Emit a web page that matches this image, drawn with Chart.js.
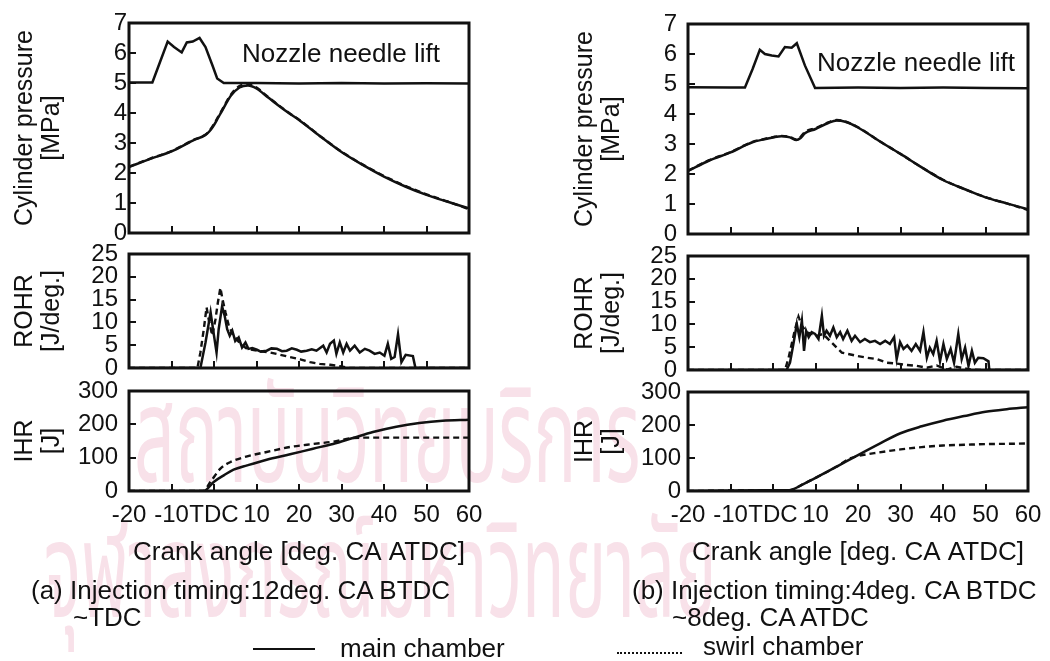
<!DOCTYPE html>
<html>
<head>
<meta charset="utf-8">
<title>Cylinder pressure, ROHR and IHR</title>
<script src="https://cdn.jsdelivr.net/npm/chart.js@4.4.1/dist/chart.umd.min.js"></script>
<style>
  html, body { margin: 0; padding: 0; background: #fff; }
  body { width: 1050px; height: 661px; position: relative; overflow: hidden;
         font-family: "Liberation Sans", Arial, sans-serif; color: #111; }
  .box { position: absolute; }
  .txt { position: absolute; white-space: nowrap; font-size: 26px; line-height: 1; }
  .wm { position: absolute; white-space: nowrap; color: #f8e1e9; line-height: 1;
        font-family: "Noto Sans Thai", "Noto Sans", "DejaVu Sans", sans-serif;
        transform-origin: 0 0; }
  .key { position: absolute; height: 0; }
</style>
</head>
<body>

<div class="wm" style="left:134px; top:374px; font-size:135px; transform:scaleX(0.53);">สถาบันวิทยบริการ</div>
<div class="wm" style="left:44px; top:509px; font-size:135px; transform:scaleX(0.52);">จุฬาลงกรณ์มหาวิทยาลัย</div>

<div class="box" id="wrap-p-a"><canvas id="p-a"></canvas></div>
<div class="box" id="wrap-r-a"><canvas id="r-a"></canvas></div>
<div class="box" id="wrap-i-a"><canvas id="i-a"></canvas></div>
<div class="box" id="wrap-p-b"><canvas id="p-b"></canvas></div>
<div class="box" id="wrap-r-b"><canvas id="r-b"></canvas></div>
<div class="box" id="wrap-i-b"><canvas id="i-b"></canvas></div>

<div class="txt" style="left:242px; top:40px;">Nozzle needle lift</div>
<div class="txt" style="left:817px; top:49px;">Nozzle needle lift</div>

<div class="txt" style="left:31px; top:577px;">(a) Injection timing:12deg. CA BTDC</div>
<div class="txt" style="left:73px; top:604px;">~TDC</div>
<div class="txt" style="left:632px; top:577px;">(b) Injection timing:4deg. CA BTDC</div>
<div class="txt" style="left:672px; top:604px;">~8deg. CA ATDC</div>

<div class="key" style="left:253px; top:648px; width:62px; border-top:2.5px solid #111;"></div>
<div class="txt" style="left:340px; top:635px;">main chamber</div>
<div class="key" style="left:617px; top:652px; width:65px; border-top:2px dotted #111;"></div>
<div class="txt" style="left:703px; top:633px;">swirl chamber</div>

<script>
// ---- (a) injection 12 deg BTDC ~ TDC ----
const pAngleA = [-20, -15, -10, -5, -2, -1, 0, 1, 2, 4, 6, 8, 10, 12, 15, 18, 20, 25, 30, 35, 40, 45, 50, 55, 60];
const pMainA = [2.2, 2.47, 2.72, 3.08, 3.27, 3.4, 3.6, 3.85, 4.1, 4.58, 4.85, 4.92, 4.82, 4.6, 4.27, 3.96, 3.77, 3.22, 2.7, 2.27, 1.88, 1.55, 1.27, 1.04, 0.82];
const pSwirlA = [2.21, 2.48, 2.73, 3.09, 3.28, 3.42, 3.63, 3.88, 4.13, 4.62, 4.9, 4.97, 4.85, 4.62, 4.28, 3.97, 3.78, 3.23, 2.71, 2.28, 1.9, 1.57, 1.29, 1.05, 0.79];

const liftAngleA = [-20, -14.5, -12.7, -10.9, -9.4, -7.6, -6.4, -5, -3.4, -2, -0.4, 0.75, 2.3, 10, 20, 30, 40, 50, 60];
const liftA = [5.02, 5.02, 5.7, 6.38, 6.2, 6.02, 6.35, 6.38, 6.5, 6.2, 5.6, 5.15, 5.0, 5.0, 4.98, 5.0, 4.98, 4.99, 4.98];

const rohrAngleMainA = [-20, -3.2, -2, -0.8, 0, 0.6, 1.1, 1.9, 2.5, 3.1, 3.7, 4.3, 5, 5.8, 6.6, 7.4, 8.1, 9, 10.1, 11, 12.4, 13.5, 14.8, 16, 17.1, 18.3, 19.5, 20.5, 21.8, 23, 24.1, 25.7, 26.5, 27.3, 28.2, 28.8, 29.6, 30.4, 31.2, 32, 33.1, 34.3, 35.5, 36.6, 37.8, 39, 40.1, 40.9, 41.7, 42.5, 43.3, 44.1, 45.1, 46.8, 47.4, 60];
const rohrMainA = [0, 0, 5.6, 12.2, 7.1, 3.4, 8.5, 13.5, 11.5, 8.5, 7.1, 8.2, 5.9, 6.7, 4.5, 5.6, 4.2, 4.4, 4.0, 3.6, 3.8, 4.3, 4.2, 3.7, 3.8, 4.3, 4.0, 3.6, 3.8, 4.1, 3.8, 4.9, 3.4, 5.3, 6.0, 3.1, 5.6, 3.4, 5.3, 3.8, 4.9, 3.4, 4.2, 3.8, 3.1, 3.4, 2.7, 5.3, 2.0, 2.4, 7.4, 1.3, 2.9, 2.6, 0, 0];
const rohrAngleSwirlA = [-20, -3.9, -3.2, -2.4, -1.75, -1.1, -0.4, 0.35, 0.9, 1.5, 2.0, 2.7, 3.5, 4.6, 6.2, 7.8, 10.1, 13.2, 15.6, 17.9, 20.3, 22.6, 24.9, 27.3, 29.6, 32, 60];
const rohrSwirlA = [0, 0, 3.4, 8.5, 13.3, 9.9, 7.1, 10.7, 14.3, 17.6, 15.1, 12.2, 9.2, 7.1, 5.3, 4.2, 3.8, 3.4, 2.9, 2.4, 1.9, 1.3, 0.9, 0.7, 0.4, 0, 0];

const ihrAngleMainA = [-20, -2.4, 0, 2.3, 4.6, 7.8, 12.4, 17.9, 23.3, 28, 32.7, 37.4, 42.9, 48.3, 53.8, 60];
const ihrMainA = [0, 0, 28, 47, 64, 77, 94, 110, 127, 141, 159, 177, 193, 204, 211, 214];
const ihrAngleSwirlA = [-20, -2.6, -0.8, 1.5, 3.9, 7.8, 12.4, 17.9, 23.3, 28, 32.7, 36, 45, 60];
const ihrSwirlA = [0, 0, 28, 67, 87, 104, 117, 132, 141, 148, 159, 160, 160, 160];

// ---- (b) injection 4 deg BTDC ~ 8 deg ATDC ----
const pAngleB = [-20, -15, -10, -5, -2, 0, 2, 4, 5.5, 6.5, 7.5, 10, 13, 15, 17, 20, 25, 30, 35, 40, 45, 50, 55, 60];
const pMainB = [2.1, 2.45, 2.72, 3.05, 3.16, 3.22, 3.26, 3.22, 3.13, 3.2, 3.36, 3.5, 3.7, 3.78, 3.74, 3.55, 3.1, 2.67, 2.22, 1.8, 1.5, 1.22, 1.02, 0.82];
const pSwirlB = [2.11, 2.46, 2.73, 3.06, 3.17, 3.23, 3.27, 3.23, 3.15, 3.24, 3.4, 3.53, 3.72, 3.8, 3.75, 3.56, 3.1, 2.67, 2.22, 1.81, 1.5, 1.23, 1.02, 0.8];

const liftAngleB = [-20, -10, -6.6, -4.8, -3.1, -1.9, -0.3, 1.3, 2.8, 4.4, 5.6, 7.5, 9.9, 20, 30, 40, 50, 60];
const liftB = [4.89, 4.88, 4.88, 5.5, 6.14, 6.0, 5.95, 5.92, 6.23, 6.21, 6.36, 5.62, 4.87, 4.88, 4.87, 4.88, 4.87, 4.86];

const rohrAngleMainB = [-20, 3.2, 4.0, 4.8, 5.6, 6.2, 6.8, 7.3, 7.8, 8.4, 9.1, 9.9, 10.7, 11.5, 12.0, 12.6, 13.4, 14.2, 15.0, 15.8, 16.5, 17.5, 18.5, 19.3, 20.5, 21.6, 22.8, 24.0, 25.2, 26.4, 27.5, 28.5, 29.1, 29.9, 30.7, 31.6, 32.6, 33.6, 34.6, 35.4, 36.2, 36.9, 37.7, 38.5, 39.3, 40.1, 40.9, 41.8, 42.6, 43.6, 44.4, 45.2, 46.0, 46.8, 47.5, 48.3, 49.5, 50.7, 50.9, 60];
const rohrMainB = [0, 0, 1.6, 5.7, 10.1, 7.2, 10.8, 4.2, 8.6, 7.2, 8.3, 7.9, 6.8, 11.9, 7.5, 8.6, 7.5, 9.3, 7.2, 8.3, 6.8, 8.6, 6.4, 7.5, 6.1, 6.8, 6.1, 6.4, 5.7, 6.4, 5.7, 7.2, 2.4, 6.1, 4.6, 5.4, 4.2, 5.7, 4.2, 8.3, 2.7, 4.9, 3.5, 6.4, 1.9, 5.7, 2.4, 4.6, 1.6, 7.9, 2.4, 4.9, 0.9, 4.2, 1.6, 2.7, 2.6, 1.9, 0, 0];
const rohrAngleSwirlB = [-20, 2.8, 3.6, 4.4, 5.2, 6.0, 6.8, 7.9, 9.1, 10.3, 11.8, 13.4, 15.0, 16.2, 17.7, 19.7, 22.0, 24.4, 26.8, 29.1, 31.5, 33.8, 36.2, 38.5, 40.9, 43.2, 46.4, 49.5, 60];
const rohrSwirlB = [0, 0, 2.4, 5.7, 9.0, 11.7, 9.7, 8.3, 7.9, 7.5, 7.9, 6.4, 4.9, 3.8, 3.5, 3.1, 2.7, 2.4, 1.6, 1.4, 1.1, 0.9, 0.5, 1.0, 0.1, 0.7, 0.1, 0, 0];

const ihrAngleMainB = [-20, -2, 3, 4.5, 7, 9.9, 15, 20, 25, 30, 35, 40, 45, 50, 55, 60];
const ihrMainB = [0, 2, 2, 4, 20, 39, 74, 109, 143, 175, 196, 213, 227, 240, 248, 254];
const ihrAngleSwirlB = [-20, -2, 3, 4.5, 7, 9.9, 15, 18, 20, 25, 30, 35, 40, 45, 50, 55, 60];
const ihrSwirlB = [0, 2, 2, 4, 20, 39, 74, 98, 106, 117, 126, 133, 138, 140, 142, 143, 144];

const INK = '#111';
Chart.defaults.font.family = '"Liberation Sans", Arial, sans-serif';
Chart.defaults.color = INK;

// Box round each plot area
const framePlugin = {
    id: 'frame',
    afterDatasetsDraw(chart) {
        const { ctx, chartArea: a } = chart;
        ctx.save();
        ctx.strokeStyle = INK;
        ctx.lineWidth = 3;
        ctx.strokeRect(a.left, a.top, a.right - a.left, a.bottom - a.top);
        ctx.restore();
    }
};

function points(xs, ys) {
    return xs.map((x, i) => ({ x: x, y: ys[i] }));
}

function series(xs, ys, dashed, smooth) {
    return {
        data: points(xs, ys),
        borderColor: INK,
        borderWidth: dashed ? 2.4 : 2.5,
        borderDash: dashed ? [6, 4] : [],
        pointRadius: 0,
        tension: 0,
        cubicInterpolationMode: smooth ? 'monotone' : 'default',
        fill: false
    };
}

// Labels are allowed to hang outside the plot box, so the scale
// must not push the plot area inward to make room for them.
function noLabelPadding(s) {
    s.paddingLeft = 0;
    s.paddingRight = 0;
    s.paddingTop = 0;
    s.paddingBottom = 0;
}

// Shared crank angle axis; only the bottom plot shows labels
function crankAxis(withLabels) {
    return {
        type: 'linear',
        min: -20,
        max: 60,
        afterFit: s => { s.height = withLabels ? 80 : 14; noLabelPadding(s); },
        border: { display: false },
        grid: { drawOnChartArea: false, drawTicks: true, tickLength: -7, color: INK, lineWidth: 2 },
        ticks: {
            display: withLabels,
            stepSize: 10,
            padding: 17,
            autoSkip: false,
            maxRotation: 0,
            font: { size: 24 },
            callback: v => v === 0 ? 'TDC' : v
        },
        title: {
            display: withLabels,
            text: 'Crank angle [deg. CA ATDC]',
            font: { size: 26 },
            padding: { top: 0, bottom: 3 }
        }
    };
}

function valueAxis(max, step, label, width, titlePad, tickPad) {
    return {
        min: 0,
        max: max,
        afterFit: s => { s.width = width; noLabelPadding(s); },
        border: { display: false },
        grid: { drawOnChartArea: false, drawTicks: true, tickLength: -7, color: INK, lineWidth: 2 },
        ticks: { stepSize: step, padding: tickPad, autoSkip: false, font: { size: 24 } },
        title: {
            display: true,
            text: label,
            font: { size: 25, lineHeight: 1.1 },
            padding: { top: titlePad, bottom: 0 }
        }
    };
}

function place(id, left, top, width, height) {
    const el = document.getElementById(id);
    el.style.left = left + 'px';
    el.style.top = top + 'px';
    el.style.width = width + 'px';
    el.style.height = height + 'px';
}

// One subplot: plot box goes from (box.left, box.top) to (box.right, box.bottom),
// box.panel is where the axis title column starts
function drawPlot(id, box, datasets, yAxis, withLabels) {
    const xH = withLabels ? 80 : 14;
    const padTop = 14;
    const padRight = 18;
    place('wrap-' + id, box.panel, box.top - padTop, box.right - box.panel + padRight, padTop + (box.bottom - box.top) + xH);
    return new Chart(document.getElementById(id), {
        type: 'line',
        data: { datasets: datasets },
        options: {
            responsive: true,
            maintainAspectRatio: false,
            animation: false,
            events: [],
            layout: { padding: { top: padTop, right: padRight, left: 0, bottom: 0 } },
            plugins: { legend: { display: false }, tooltip: { enabled: false } },
            scales: { x: crankAxis(withLabels), y: yAxis }
        },
        plugins: [framePlugin]
    });
}

// Panel (a)
drawPlot('p-a', { panel: 0, left: 129, right: 469, top: 23, bottom: 233 }, [
    series(pAngleA, pMainA, false, true),
    series(pAngleA, pSwirlA, true, true),
    series(liftAngleA, liftA, false, false)
], valueAxis(7, 1, ['Cylinder pressure', '[MPa]'], 129, 11, 9), false);

drawPlot('r-a', { panel: 0, left: 129, right: 469, top: 254, bottom: 368 }, [
    series(rohrAngleMainA, rohrMainA, false, false),
    series(rohrAngleSwirlA, rohrSwirlA, true, false)
], valueAxis(25, 5, ['ROHR', '[J/deg.]'], 129, 11, 18), false);

drawPlot('i-a', { panel: 0, left: 129, right: 469, top: 391, bottom: 491 }, [
    series(ihrAngleMainA, ihrMainA, false, true),
    series(ihrAngleSwirlA, ihrSwirlA, true, true)
], valueAxis(300, 100, ['IHR', '[J]'], 129, 11, 18), true);

// Panel (b)
drawPlot('p-b', { panel: 525, left: 688, right: 1028, top: 24, bottom: 234 }, [
    series(pAngleB, pMainB, false, true),
    series(pAngleB, pSwirlB, true, true),
    series(liftAngleB, liftB, false, false)
], valueAxis(7, 1, ['Cylinder pressure', '[MPa]'], 163, 46, 18), false);

drawPlot('r-b', { panel: 525, left: 688, right: 1028, top: 256, bottom: 370 }, [
    series(rohrAngleMainB, rohrMainB, false, false),
    series(rohrAngleSwirlB, rohrSwirlB, true, false)
], valueAxis(25, 5, ['ROHR', '[J/deg.]'], 163, 46, 18), false);

drawPlot('i-b', { panel: 525, left: 688, right: 1028, top: 392, bottom: 491 }, [
    series(ihrAngleMainB, ihrMainB, false, true),
    series(ihrAngleSwirlB, ihrSwirlB, true, true)
], valueAxis(300, 100, ['IHR', '[J]'], 163, 46, 14), true);
</script>
</body>
</html>
